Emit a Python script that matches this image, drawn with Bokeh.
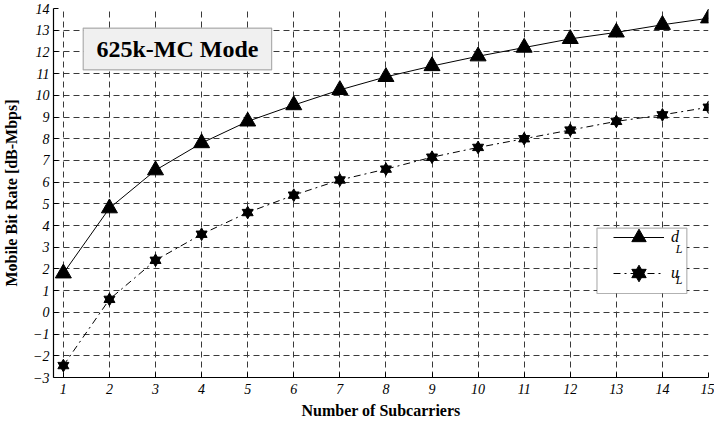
from bokeh.plotting import figure
from bokeh.models import (Range1d, FixedTicker, BoxAnnotation, Label, Legend, LegendItem)
from bokeh.embed import file_html
from bokeh.resources import INLINE

# ---- data ----
subcarriers = [1, 2, 3, 4, 5, 6, 7, 8, 9, 10, 11, 12, 13, 14, 15]
d_L = [1.8, 4.8, 6.55, 7.8, 8.8, 9.55, 10.25, 10.85, 11.35, 11.8, 12.2, 12.6, 12.9, 13.25, 13.55]
u_L = [-2.45, 0.6, 2.4, 3.6, 4.6, 5.4, 6.1, 6.6, 7.15, 7.6, 8.0, 8.4, 8.8, 9.1, 9.45]
x_ticks = list(range(1, 16))
y_ticks = list(range(-3, 15))
title_text = "625k-MC Mode"
x_label = "Number of Subcarriers"
y_label = "Mobile Bit Rate [dB-Mbps]"

SERIF = "Liberation Serif"

p = figure(width=714, height=421, output_backend="svg", toolbar_location=None,
           x_range=Range1d(0.786, 15.0), y_range=Range1d(-3, 14),
           min_border_left=45, min_border_right=6, min_border_top=8, min_border_bottom=40)
p.outline_line_color = None
p.background_fill_color = "white"

for ax in (p.xaxis[0], p.yaxis[0]):
    ax.major_tick_in = 5
    ax.major_tick_out = 0
    ax.minor_tick_in = 0
    ax.minor_tick_out = 0
    ax.axis_line_color = "black"
    ax.axis_line_width = 1.2
    ax.major_tick_line_color = "black"
    ax.major_label_text_font = SERIF
    ax.major_label_text_font_style = "italic"
    ax.major_label_text_font_size = "14px"
    ax.major_label_text_color = "black"
    ax.axis_label_text_font = SERIF
    ax.axis_label_text_font_style = "bold"
    ax.axis_label_text_font_size = "16px"
    ax.axis_label_text_color = "black"

p.xaxis.ticker = FixedTicker(ticks=x_ticks)
p.yaxis.ticker = FixedTicker(ticks=y_ticks)
p.xaxis.axis_label = x_label
p.yaxis.axis_label = y_label
p.xaxis.major_label_standoff = 6
p.yaxis.major_label_standoff = 4
p.xaxis.axis_label_standoff = 5
p.yaxis.axis_label_standoff = 10

for g in (p.xgrid[0], p.ygrid[0]):
    g.grid_line_color = "#3a3a3a"
    g.grid_line_dash = "6 4"
    g.grid_line_width = 1
p.xgrid.ticker = FixedTicker(ticks=x_ticks)
p.ygrid.ticker = FixedTicker(ticks=y_ticks)

# series d_L
ld = p.line(subcarriers, d_L, line_color="black", line_width=1)
sd = p.scatter(subcarriers, d_L, marker="triangle", size=16, fill_color="black", line_color="black")

# series u_L (hexagram = triangle + inverted triangle)
lu = p.line(subcarriers, u_L, line_color="black", line_width=1, line_dash="7 4 2 4")
su1 = p.scatter(subcarriers, u_L, marker="triangle", size=11, fill_color="black", line_color="black")
su2 = p.scatter(subcarriers, u_L, marker="inverted_triangle", size=11, fill_color="black", line_color="black")

# title box
p.add_layout(BoxAnnotation(left=1.43, right=5.52, bottom=11.17, top=13.1,
                           fill_color="#f0f0f0", fill_alpha=1, line_color="black", line_width=1.2,
                           level="overlay"))
p.add_layout(Label(x=3.475, y=12.13, text=title_text, text_font=SERIF, text_font_style="bold",
                   text_font_size="24px", text_align="center", text_baseline="middle",
                   text_color="black", level="overlay"))

# legend frame
p.add_layout(BoxAnnotation(left=12.58, right=14.53, bottom=0.87, top=3.88,
                           fill_color="white", fill_alpha=1, line_color="black", line_width=1.2,
                           level="overlay"))
legend = Legend(items=[LegendItem(label="d", renderers=[ld, sd]),
                       LegendItem(label="u", renderers=[lu, su1, su2])],
                location=(560, 86), orientation="vertical",
                border_line_color=None, background_fill_alpha=0,
                padding=0, margin=0, spacing=-4,
                glyph_width=51, glyph_height=36, label_height=36, label_width=10,
                label_standoff=7,
                label_text_font=SERIF, label_text_font_style="italic",
                label_text_font_size="16px", label_text_color="black")
p.add_layout(legend, "center")

for yy in (2.92, 1.47):
    p.add_layout(Label(x=14.29, y=yy, text="L", text_font=SERIF, text_font_style="italic",
                       text_font_size="12px", text_baseline="middle", text_color="black",
                       level="overlay"))

open("out.html", "w").write(file_html(p, INLINE))
